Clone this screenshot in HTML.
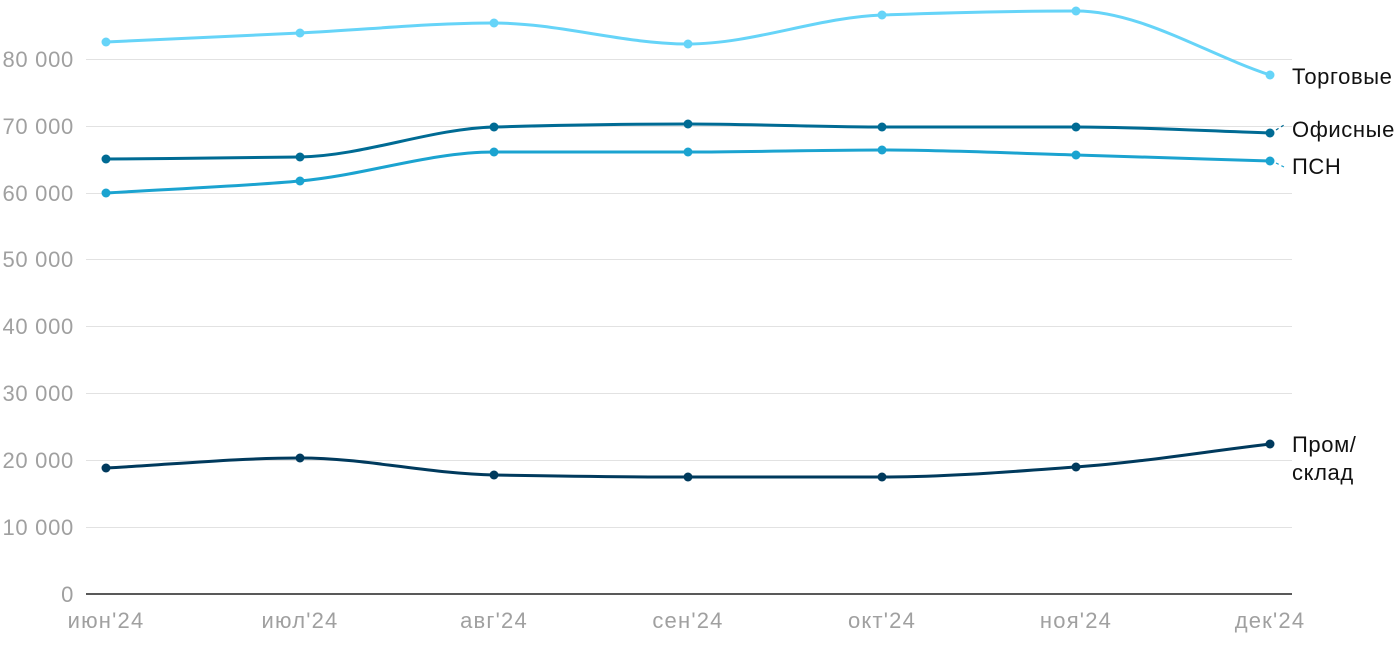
<!DOCTYPE html>
<html><head><meta charset="utf-8"><style>
body{margin:0;background:#fff;}
svg text{font-family:"Liberation Sans","DejaVu Sans",sans-serif;}
</style></head><body>
<svg id="s" width="1400" height="650" xmlns="http://www.w3.org/2000/svg">
<g stroke="#e2e2e2" stroke-width="1">
<line x1="86" x2="1292" y1="59.5" y2="59.5"/><line x1="86" x2="1292" y1="126.5" y2="126.5"/>
<line x1="86" x2="1292" y1="193.5" y2="193.5"/><line x1="86" x2="1292" y1="259.5" y2="259.5"/>
<line x1="86" x2="1292" y1="326.5" y2="326.5"/><line x1="86" x2="1292" y1="393.5" y2="393.5"/>
<line x1="86" x2="1292" y1="460.5" y2="460.5"/><line x1="86" x2="1292" y1="527.5" y2="527.5"/>
</g>
<line x1="86" x2="1292" y1="594" y2="594" stroke="#222" stroke-width="1.5"/>
<g fill="#a0a0a0" font-size="22" letter-spacing="0.7" text-anchor="end">
<text x="74" y="67">80 000</text><text x="74" y="134">70 000</text><text x="74" y="201">60 000</text>
<text x="74" y="267">50 000</text><text x="74" y="334">40 000</text><text x="74" y="401">30 000</text>
<text x="74" y="468">20 000</text><text x="74" y="535">10 000</text><text x="74" y="602">0</text>
</g>
<g fill="#a0a0a0" font-size="22" letter-spacing="1.2" text-anchor="middle">
<text x="106" y="628">июн'24</text><text x="300" y="628">июл'24</text><text x="494" y="628">авг'24</text>
<text x="688" y="628">сен'24</text><text x="882" y="628">окт'24</text><text x="1076" y="628">ноя'24</text>
<text x="1270" y="628">дек'24</text>
</g>
<g id="series"></g>
<g stroke-width="1.2" stroke-dasharray="3,3">
<line x1="1276" y1="130" x2="1284" y2="125" stroke="#006b94"/>
<line x1="1276" y1="163" x2="1284" y2="167" stroke="#1ba3d0"/>
</g>
<g fill="#111" font-size="22" letter-spacing="0.6">
<text x="1292" y="84">Торговые</text>
<text x="1292" y="137">Офисные</text>
<text x="1292" y="174">ПСН</text>
<text x="1292" y="452">Пром/</text>
<text x="1292" y="480">склад</text>
</g>
</svg>
<script>
var xs=[106,300,494,688,882,1076,1270];
var S=[["#66d4f8",[42,33,23,44,15,11,75]],["#1ba3d0",[193,181,152,152,150,155,161]],["#006b94",[159,157,127,124,127,127,133]],["#003a5d",[468,458,475,477,477,467,444]]];
var g=document.getElementById("series"),h="";
S.forEach(function(s){var y=s[1],n=y.length,m=[],d=[];
for(var i=0;i<n-1;i++)d.push((y[i+1]-y[i])/194);
for(i=0;i<n;i++){if(i==0)m.push(d[0]);else if(i==n-1)m.push(d[n-2]);else m.push(d[i-1]*d[i]<=0?0:2/(1/d[i-1]+1/d[i]));}
var p="M"+xs[0]+","+y[0];
for(i=0;i<n-1;i++){var k=194/3;p+=" C"+(xs[i]+k)+","+(y[i]+m[i]*k)+" "+(xs[i+1]-k)+","+(y[i+1]-m[i+1]*k)+" "+xs[i+1]+","+y[i+1];}
h+='<path d="'+p+'" fill="none" stroke="'+s[0]+'" stroke-width="3"/>';
for(i=0;i<n;i++)h+='<circle cx="'+xs[i]+'" cy="'+y[i]+'" r="4.5" fill="'+s[0]+'"/>';});
g.innerHTML=h;
</script>
</body></html>
